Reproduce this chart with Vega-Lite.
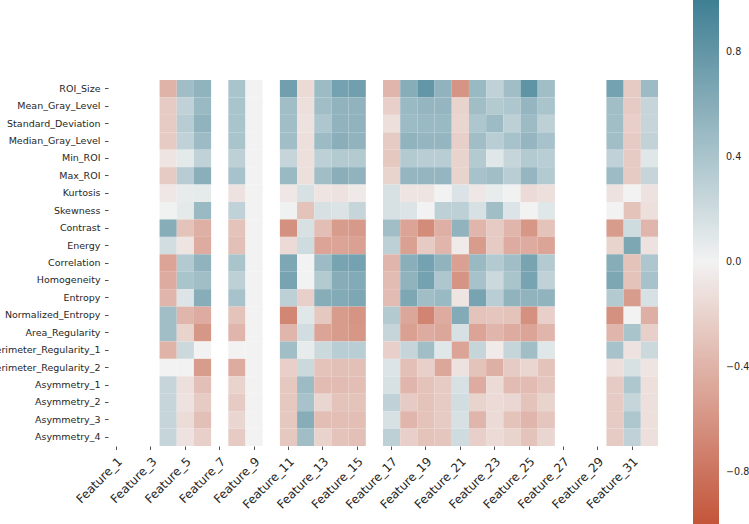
{
"$schema":"https://vega.github.io/schema/vega-lite/v6.json",
"width":550,"height":366,
"autosize":{"type":"none"},
"padding":{"left":108,"top":80,"right":91,"bottom":78},
"background":"white",
"config":{"view":{"stroke":null},"font":"DejaVu Sans"},
"data":{"values":[
{"feature":"Feature_4","metric":"ROI_Size","r":-0.4},{"feature":"Feature_4","metric":"Mean_Gray_Level","r":-0.25},{"feature":"Feature_4","metric":"Standard_Deviation","r":-0.25},{"feature":"Feature_4","metric":"Median_Gray_Level","r":-0.25},{"feature":"Feature_4","metric":"Min_ROI","r":-0.08},{"feature":"Feature_4","metric":"Max_ROI","r":-0.25},{"feature":"Feature_4","metric":"Kurtosis","r":-0.07},{"feature":"Feature_4","metric":"Skewness","r":0.01},{"feature":"Feature_4","metric":"Contrast","r":0.6},{"feature":"Feature_4","metric":"Energy","r":0.18},{"feature":"Feature_4","metric":"Correlation","r":-0.5},{"feature":"Feature_4","metric":"Homogeneity","r":-0.45},{"feature":"Feature_4","metric":"Entropy","r":-0.38},{"feature":"Feature_4","metric":"Normalized_Entropy","r":0.45},{"feature":"Feature_4","metric":"Area_Regularity","r":0.45},{"feature":"Feature_4","metric":"Perimeter_Regularity_1","r":-0.4},{"feature":"Feature_4","metric":"Perimeter_Regularity_2","r":0},{"feature":"Feature_4","metric":"Asymmetry_1","r":0.25},{"feature":"Feature_4","metric":"Asymmetry_2","r":0.25},{"feature":"Feature_4","metric":"Asymmetry_3","r":0.25},{"feature":"Feature_4","metric":"Asymmetry_4","r":0.25},
{"feature":"Feature_5","metric":"ROI_Size","r":0.45},{"feature":"Feature_5","metric":"Mean_Gray_Level","r":0.28},{"feature":"Feature_5","metric":"Standard_Deviation","r":0.33},{"feature":"Feature_5","metric":"Median_Gray_Level","r":0.28},{"feature":"Feature_5","metric":"Min_ROI","r":0.08},{"feature":"Feature_5","metric":"Max_ROI","r":0.33},{"feature":"Feature_5","metric":"Kurtosis","r":0.06},{"feature":"Feature_5","metric":"Skewness","r":0.08},{"feature":"Feature_5","metric":"Contrast","r":-0.3},{"feature":"Feature_5","metric":"Energy","r":-0.08},{"feature":"Feature_5","metric":"Correlation","r":0.35},{"feature":"Feature_5","metric":"Homogeneity","r":0.4},{"feature":"Feature_5","metric":"Entropy","r":0.12},{"feature":"Feature_5","metric":"Normalized_Entropy","r":-0.38},{"feature":"Feature_5","metric":"Area_Regularity","r":-0.2},{"feature":"Feature_5","metric":"Perimeter_Regularity_1","r":0.22},{"feature":"Feature_5","metric":"Perimeter_Regularity_2","r":0},{"feature":"Feature_5","metric":"Asymmetry_1","r":-0.12},{"feature":"Feature_5","metric":"Asymmetry_2","r":-0.1},{"feature":"Feature_5","metric":"Asymmetry_3","r":-0.14},{"feature":"Feature_5","metric":"Asymmetry_4","r":-0.1},
{"feature":"Feature_6","metric":"ROI_Size","r":0.55},{"feature":"Feature_6","metric":"Mean_Gray_Level","r":0.5},{"feature":"Feature_6","metric":"Standard_Deviation","r":0.55},{"feature":"Feature_6","metric":"Median_Gray_Level","r":0.48},{"feature":"Feature_6","metric":"Min_ROI","r":0.28},{"feature":"Feature_6","metric":"Max_ROI","r":0.58},{"feature":"Feature_6","metric":"Kurtosis","r":0.07},{"feature":"Feature_6","metric":"Skewness","r":0.5},{"feature":"Feature_6","metric":"Contrast","r":-0.42},{"feature":"Feature_6","metric":"Energy","r":-0.45},{"feature":"Feature_6","metric":"Correlation","r":0.55},{"feature":"Feature_6","metric":"Homogeneity","r":0.45},{"feature":"Feature_6","metric":"Entropy","r":0.6},{"feature":"Feature_6","metric":"Normalized_Entropy","r":-0.45},{"feature":"Feature_6","metric":"Area_Regularity","r":-0.58},{"feature":"Feature_6","metric":"Perimeter_Regularity_1","r":0},{"feature":"Feature_6","metric":"Perimeter_Regularity_2","r":-0.55},{"feature":"Feature_6","metric":"Asymmetry_1","r":-0.32},{"feature":"Feature_6","metric":"Asymmetry_2","r":-0.25},{"feature":"Feature_6","metric":"Asymmetry_3","r":-0.32},{"feature":"Feature_6","metric":"Asymmetry_4","r":-0.22},
{"feature":"Feature_8","metric":"ROI_Size","r":0.4},{"feature":"Feature_8","metric":"Mean_Gray_Level","r":0.4},{"feature":"Feature_8","metric":"Standard_Deviation","r":0.4},{"feature":"Feature_8","metric":"Median_Gray_Level","r":0.4},{"feature":"Feature_8","metric":"Min_ROI","r":0.3},{"feature":"Feature_8","metric":"Max_ROI","r":0.42},{"feature":"Feature_8","metric":"Kurtosis","r":-0.1},{"feature":"Feature_8","metric":"Skewness","r":0.28},{"feature":"Feature_8","metric":"Contrast","r":-0.3},{"feature":"Feature_8","metric":"Energy","r":-0.32},{"feature":"Feature_8","metric":"Correlation","r":0.4},{"feature":"Feature_8","metric":"Homogeneity","r":0.3},{"feature":"Feature_8","metric":"Entropy","r":0.42},{"feature":"Feature_8","metric":"Normalized_Entropy","r":-0.3},{"feature":"Feature_8","metric":"Area_Regularity","r":-0.38},{"feature":"Feature_8","metric":"Perimeter_Regularity_1","r":0},{"feature":"Feature_8","metric":"Perimeter_Regularity_2","r":-0.45},{"feature":"Feature_8","metric":"Asymmetry_1","r":-0.2},{"feature":"Feature_8","metric":"Asymmetry_2","r":-0.25},{"feature":"Feature_8","metric":"Asymmetry_3","r":-0.18},{"feature":"Feature_8","metric":"Asymmetry_4","r":-0.25},
{"feature":"Feature_9","metric":"ROI_Size","r":0},{"feature":"Feature_9","metric":"Mean_Gray_Level","r":0},{"feature":"Feature_9","metric":"Standard_Deviation","r":0},{"feature":"Feature_9","metric":"Median_Gray_Level","r":0},{"feature":"Feature_9","metric":"Min_ROI","r":0},{"feature":"Feature_9","metric":"Max_ROI","r":0},{"feature":"Feature_9","metric":"Kurtosis","r":0},{"feature":"Feature_9","metric":"Skewness","r":0},{"feature":"Feature_9","metric":"Contrast","r":0},{"feature":"Feature_9","metric":"Energy","r":0},{"feature":"Feature_9","metric":"Correlation","r":0},{"feature":"Feature_9","metric":"Homogeneity","r":0},{"feature":"Feature_9","metric":"Entropy","r":0},{"feature":"Feature_9","metric":"Normalized_Entropy","r":0},{"feature":"Feature_9","metric":"Area_Regularity","r":0},{"feature":"Feature_9","metric":"Perimeter_Regularity_1","r":0},{"feature":"Feature_9","metric":"Perimeter_Regularity_2","r":0},{"feature":"Feature_9","metric":"Asymmetry_1","r":0},{"feature":"Feature_9","metric":"Asymmetry_2","r":0},{"feature":"Feature_9","metric":"Asymmetry_3","r":0},{"feature":"Feature_9","metric":"Asymmetry_4","r":0},
{"feature":"Feature_11","metric":"ROI_Size","r":0.72},{"feature":"Feature_11","metric":"Mean_Gray_Level","r":0.45},{"feature":"Feature_11","metric":"Standard_Deviation","r":0.45},{"feature":"Feature_11","metric":"Median_Gray_Level","r":0.45},{"feature":"Feature_11","metric":"Min_ROI","r":0.25},{"feature":"Feature_11","metric":"Max_ROI","r":0.5},{"feature":"Feature_11","metric":"Kurtosis","r":-0.07},{"feature":"Feature_11","metric":"Skewness","r":0.01},{"feature":"Feature_11","metric":"Contrast","r":-0.62},{"feature":"Feature_11","metric":"Energy","r":-0.15},{"feature":"Feature_11","metric":"Correlation","r":0.65},{"feature":"Feature_11","metric":"Homogeneity","r":0.68},{"feature":"Feature_11","metric":"Entropy","r":0.3},{"feature":"Feature_11","metric":"Normalized_Entropy","r":-0.68},{"feature":"Feature_11","metric":"Area_Regularity","r":-0.38},{"feature":"Feature_11","metric":"Perimeter_Regularity_1","r":0.45},{"feature":"Feature_11","metric":"Perimeter_Regularity_2","r":-0.22},{"feature":"Feature_11","metric":"Asymmetry_1","r":-0.27},{"feature":"Feature_11","metric":"Asymmetry_2","r":-0.27},{"feature":"Feature_11","metric":"Asymmetry_3","r":-0.27},{"feature":"Feature_11","metric":"Asymmetry_4","r":-0.27},
{"feature":"Feature_12","metric":"ROI_Size","r":-0.15},{"feature":"Feature_12","metric":"Mean_Gray_Level","r":-0.12},{"feature":"Feature_12","metric":"Standard_Deviation","r":-0.1},{"feature":"Feature_12","metric":"Median_Gray_Level","r":-0.12},{"feature":"Feature_12","metric":"Min_ROI","r":-0.12},{"feature":"Feature_12","metric":"Max_ROI","r":-0.12},{"feature":"Feature_12","metric":"Kurtosis","r":0.15},{"feature":"Feature_12","metric":"Skewness","r":-0.3},{"feature":"Feature_12","metric":"Contrast","r":0.15},{"feature":"Feature_12","metric":"Energy","r":0.2},{"feature":"Feature_12","metric":"Correlation","r":0},{"feature":"Feature_12","metric":"Homogeneity","r":0},{"feature":"Feature_12","metric":"Entropy","r":-0.22},{"feature":"Feature_12","metric":"Normalized_Entropy","r":0.1},{"feature":"Feature_12","metric":"Area_Regularity","r":0.18},{"feature":"Feature_12","metric":"Perimeter_Regularity_1","r":0.06},{"feature":"Feature_12","metric":"Perimeter_Regularity_2","r":0.22},{"feature":"Feature_12","metric":"Asymmetry_1","r":0.48},{"feature":"Feature_12","metric":"Asymmetry_2","r":0.42},{"feature":"Feature_12","metric":"Asymmetry_3","r":0.6},{"feature":"Feature_12","metric":"Asymmetry_4","r":0.45},
{"feature":"Feature_13","metric":"ROI_Size","r":0.48},{"feature":"Feature_13","metric":"Mean_Gray_Level","r":0.45},{"feature":"Feature_13","metric":"Standard_Deviation","r":0.38},{"feature":"Feature_13","metric":"Median_Gray_Level","r":0.48},{"feature":"Feature_13","metric":"Min_ROI","r":0.3},{"feature":"Feature_13","metric":"Max_ROI","r":0.45},{"feature":"Feature_13","metric":"Kurtosis","r":-0.08},{"feature":"Feature_13","metric":"Skewness","r":0.15},{"feature":"Feature_13","metric":"Contrast","r":-0.33},{"feature":"Feature_13","metric":"Energy","r":-0.5},{"feature":"Feature_13","metric":"Correlation","r":0.48},{"feature":"Feature_13","metric":"Homogeneity","r":0.35},{"feature":"Feature_13","metric":"Entropy","r":0.6},{"feature":"Feature_13","metric":"Normalized_Entropy","r":-0.27},{"feature":"Feature_13","metric":"Area_Regularity","r":-0.5},{"feature":"Feature_13","metric":"Perimeter_Regularity_1","r":0.22},{"feature":"Feature_13","metric":"Perimeter_Regularity_2","r":-0.3},{"feature":"Feature_13","metric":"Asymmetry_1","r":-0.35},{"feature":"Feature_13","metric":"Asymmetry_2","r":-0.18},{"feature":"Feature_13","metric":"Asymmetry_3","r":-0.33},{"feature":"Feature_13","metric":"Asymmetry_4","r":-0.2},
{"feature":"Feature_14","metric":"ROI_Size","r":0.7},{"feature":"Feature_14","metric":"Mean_Gray_Level","r":0.55},{"feature":"Feature_14","metric":"Standard_Deviation","r":0.55},{"feature":"Feature_14","metric":"Median_Gray_Level","r":0.58},{"feature":"Feature_14","metric":"Min_ROI","r":0.35},{"feature":"Feature_14","metric":"Max_ROI","r":0.58},{"feature":"Feature_14","metric":"Kurtosis","r":-0.1},{"feature":"Feature_14","metric":"Skewness","r":0.13},{"feature":"Feature_14","metric":"Contrast","r":-0.55},{"feature":"Feature_14","metric":"Energy","r":-0.5},{"feature":"Feature_14","metric":"Correlation","r":0.68},{"feature":"Feature_14","metric":"Homogeneity","r":0.6},{"feature":"Feature_14","metric":"Entropy","r":0.62},{"feature":"Feature_14","metric":"Normalized_Entropy","r":-0.55},{"feature":"Feature_14","metric":"Area_Regularity","r":-0.55},{"feature":"Feature_14","metric":"Perimeter_Regularity_1","r":0.32},{"feature":"Feature_14","metric":"Perimeter_Regularity_2","r":-0.32},{"feature":"Feature_14","metric":"Asymmetry_1","r":-0.35},{"feature":"Feature_14","metric":"Asymmetry_2","r":-0.3},{"feature":"Feature_14","metric":"Asymmetry_3","r":-0.33},{"feature":"Feature_14","metric":"Asymmetry_4","r":-0.3},
{"feature":"Feature_15","metric":"ROI_Size","r":0.72},{"feature":"Feature_15","metric":"Mean_Gray_Level","r":0.55},{"feature":"Feature_15","metric":"Standard_Deviation","r":0.55},{"feature":"Feature_15","metric":"Median_Gray_Level","r":0.55},{"feature":"Feature_15","metric":"Min_ROI","r":0.35},{"feature":"Feature_15","metric":"Max_ROI","r":0.55},{"feature":"Feature_15","metric":"Kurtosis","r":-0.06},{"feature":"Feature_15","metric":"Skewness","r":0.25},{"feature":"Feature_15","metric":"Contrast","r":-0.57},{"feature":"Feature_15","metric":"Energy","r":-0.52},{"feature":"Feature_15","metric":"Correlation","r":0.7},{"feature":"Feature_15","metric":"Homogeneity","r":0.62},{"feature":"Feature_15","metric":"Entropy","r":0.65},{"feature":"Feature_15","metric":"Normalized_Entropy","r":-0.6},{"feature":"Feature_15","metric":"Area_Regularity","r":-0.58},{"feature":"Feature_15","metric":"Perimeter_Regularity_1","r":0.32},{"feature":"Feature_15","metric":"Perimeter_Regularity_2","r":-0.32},{"feature":"Feature_15","metric":"Asymmetry_1","r":-0.33},{"feature":"Feature_15","metric":"Asymmetry_2","r":-0.3},{"feature":"Feature_15","metric":"Asymmetry_3","r":-0.33},{"feature":"Feature_15","metric":"Asymmetry_4","r":-0.32},
{"feature":"Feature_17","metric":"ROI_Size","r":-0.38},{"feature":"Feature_17","metric":"Mean_Gray_Level","r":-0.22},{"feature":"Feature_17","metric":"Standard_Deviation","r":-0.12},{"feature":"Feature_17","metric":"Median_Gray_Level","r":-0.25},{"feature":"Feature_17","metric":"Min_ROI","r":-0.27},{"feature":"Feature_17","metric":"Max_ROI","r":-0.2},{"feature":"Feature_17","metric":"Kurtosis","r":0.15},{"feature":"Feature_17","metric":"Skewness","r":0.15},{"feature":"Feature_17","metric":"Contrast","r":0.45},{"feature":"Feature_17","metric":"Energy","r":0.3},{"feature":"Feature_17","metric":"Correlation","r":-0.38},{"feature":"Feature_17","metric":"Homogeneity","r":-0.35},{"feature":"Feature_17","metric":"Entropy","r":-0.35},{"feature":"Feature_17","metric":"Normalized_Entropy","r":0.35},{"feature":"Feature_17","metric":"Area_Regularity","r":0.25},{"feature":"Feature_17","metric":"Perimeter_Regularity_1","r":-0.22},{"feature":"Feature_17","metric":"Perimeter_Regularity_2","r":0.12},{"feature":"Feature_17","metric":"Asymmetry_1","r":0.15},{"feature":"Feature_17","metric":"Asymmetry_2","r":0.28},{"feature":"Feature_17","metric":"Asymmetry_3","r":0.15},{"feature":"Feature_17","metric":"Asymmetry_4","r":0.3},
{"feature":"Feature_18","metric":"ROI_Size","r":0.6},{"feature":"Feature_18","metric":"Mean_Gray_Level","r":0.5},{"feature":"Feature_18","metric":"Standard_Deviation","r":0.48},{"feature":"Feature_18","metric":"Median_Gray_Level","r":0.55},{"feature":"Feature_18","metric":"Min_ROI","r":0.35},{"feature":"Feature_18","metric":"Max_ROI","r":0.52},{"feature":"Feature_18","metric":"Kurtosis","r":-0.08},{"feature":"Feature_18","metric":"Skewness","r":0.12},{"feature":"Feature_18","metric":"Contrast","r":-0.5},{"feature":"Feature_18","metric":"Energy","r":-0.52},{"feature":"Feature_18","metric":"Correlation","r":0.58},{"feature":"Feature_18","metric":"Homogeneity","r":0.55},{"feature":"Feature_18","metric":"Entropy","r":0.65},{"feature":"Feature_18","metric":"Normalized_Entropy","r":-0.48},{"feature":"Feature_18","metric":"Area_Regularity","r":-0.52},{"feature":"Feature_18","metric":"Perimeter_Regularity_1","r":0.25},{"feature":"Feature_18","metric":"Perimeter_Regularity_2","r":-0.32},{"feature":"Feature_18","metric":"Asymmetry_1","r":-0.38},{"feature":"Feature_18","metric":"Asymmetry_2","r":-0.25},{"feature":"Feature_18","metric":"Asymmetry_3","r":-0.38},{"feature":"Feature_18","metric":"Asymmetry_4","r":-0.22},
{"feature":"Feature_19","metric":"ROI_Size","r":0.8},{"feature":"Feature_19","metric":"Mean_Gray_Level","r":0.52},{"feature":"Feature_19","metric":"Standard_Deviation","r":0.5},{"feature":"Feature_19","metric":"Median_Gray_Level","r":0.52},{"feature":"Feature_19","metric":"Min_ROI","r":0.32},{"feature":"Feature_19","metric":"Max_ROI","r":0.52},{"feature":"Feature_19","metric":"Kurtosis","r":-0.08},{"feature":"Feature_19","metric":"Skewness","r":0},{"feature":"Feature_19","metric":"Contrast","r":-0.65},{"feature":"Feature_19","metric":"Energy","r":-0.25},{"feature":"Feature_19","metric":"Correlation","r":0.7},{"feature":"Feature_19","metric":"Homogeneity","r":0.7},{"feature":"Feature_19","metric":"Entropy","r":0.45},{"feature":"Feature_19","metric":"Normalized_Entropy","r":-0.7},{"feature":"Feature_19","metric":"Area_Regularity","r":-0.45},{"feature":"Feature_19","metric":"Perimeter_Regularity_1","r":0.45},{"feature":"Feature_19","metric":"Perimeter_Regularity_2","r":-0.22},{"feature":"Feature_19","metric":"Asymmetry_1","r":-0.3},{"feature":"Feature_19","metric":"Asymmetry_2","r":-0.3},{"feature":"Feature_19","metric":"Asymmetry_3","r":-0.3},{"feature":"Feature_19","metric":"Asymmetry_4","r":-0.3},
{"feature":"Feature_20","metric":"ROI_Size","r":0.55},{"feature":"Feature_20","metric":"Mean_Gray_Level","r":0.52},{"feature":"Feature_20","metric":"Standard_Deviation","r":0.5},{"feature":"Feature_20","metric":"Median_Gray_Level","r":0.52},{"feature":"Feature_20","metric":"Min_ROI","r":0.32},{"feature":"Feature_20","metric":"Max_ROI","r":0.52},{"feature":"Feature_20","metric":"Kurtosis","r":0},{"feature":"Feature_20","metric":"Skewness","r":0.3},{"feature":"Feature_20","metric":"Contrast","r":-0.42},{"feature":"Feature_20","metric":"Energy","r":-0.38},{"feature":"Feature_20","metric":"Correlation","r":0.55},{"feature":"Feature_20","metric":"Homogeneity","r":0.38},{"feature":"Feature_20","metric":"Entropy","r":0.5},{"feature":"Feature_20","metric":"Normalized_Entropy","r":-0.45},{"feature":"Feature_20","metric":"Area_Regularity","r":-0.48},{"feature":"Feature_20","metric":"Perimeter_Regularity_1","r":0.1},{"feature":"Feature_20","metric":"Perimeter_Regularity_2","r":-0.48},{"feature":"Feature_20","metric":"Asymmetry_1","r":-0.25},{"feature":"Feature_20","metric":"Asymmetry_2","r":-0.25},{"feature":"Feature_20","metric":"Asymmetry_3","r":-0.25},{"feature":"Feature_20","metric":"Asymmetry_4","r":-0.28},
{"feature":"Feature_21","metric":"ROI_Size","r":-0.6},{"feature":"Feature_21","metric":"Mean_Gray_Level","r":-0.2},{"feature":"Feature_21","metric":"Standard_Deviation","r":-0.18},{"feature":"Feature_21","metric":"Median_Gray_Level","r":-0.22},{"feature":"Feature_21","metric":"Min_ROI","r":-0.2},{"feature":"Feature_21","metric":"Max_ROI","r":-0.2},{"feature":"Feature_21","metric":"Kurtosis","r":0.13},{"feature":"Feature_21","metric":"Skewness","r":0.3},{"feature":"Feature_21","metric":"Contrast","r":0.55},{"feature":"Feature_21","metric":"Energy","r":-0.05},{"feature":"Feature_21","metric":"Correlation","r":-0.52},{"feature":"Feature_21","metric":"Homogeneity","r":-0.6},{"feature":"Feature_21","metric":"Entropy","r":-0.08},{"feature":"Feature_21","metric":"Normalized_Entropy","r":0.62},{"feature":"Feature_21","metric":"Area_Regularity","r":0.15},{"feature":"Feature_21","metric":"Perimeter_Regularity_1","r":-0.5},{"feature":"Feature_21","metric":"Perimeter_Regularity_2","r":-0.1},{"feature":"Feature_21","metric":"Asymmetry_1","r":0.15},{"feature":"Feature_21","metric":"Asymmetry_2","r":0.18},{"feature":"Feature_21","metric":"Asymmetry_3","r":0.15},{"feature":"Feature_21","metric":"Asymmetry_4","r":0.2},
{"feature":"Feature_22","metric":"ROI_Size","r":0.5},{"feature":"Feature_22","metric":"Mean_Gray_Level","r":0.45},{"feature":"Feature_22","metric":"Standard_Deviation","r":0.38},{"feature":"Feature_22","metric":"Median_Gray_Level","r":0.45},{"feature":"Feature_22","metric":"Min_ROI","r":0.35},{"feature":"Feature_22","metric":"Max_ROI","r":0.42},{"feature":"Feature_22","metric":"Kurtosis","r":-0.07},{"feature":"Feature_22","metric":"Skewness","r":0.15},{"feature":"Feature_22","metric":"Contrast","r":-0.38},{"feature":"Feature_22","metric":"Energy","r":-0.55},{"feature":"Feature_22","metric":"Correlation","r":0.5},{"feature":"Feature_22","metric":"Homogeneity","r":0.42},{"feature":"Feature_22","metric":"Entropy","r":0.68},{"feature":"Feature_22","metric":"Normalized_Entropy","r":-0.3},{"feature":"Feature_22","metric":"Area_Regularity","r":-0.5},{"feature":"Feature_22","metric":"Perimeter_Regularity_1","r":0.25},{"feature":"Feature_22","metric":"Perimeter_Regularity_2","r":-0.3},{"feature":"Feature_22","metric":"Asymmetry_1","r":-0.45},{"feature":"Feature_22","metric":"Asymmetry_2","r":-0.2},{"feature":"Feature_22","metric":"Asymmetry_3","r":-0.38},{"feature":"Feature_22","metric":"Asymmetry_4","r":-0.22},
{"feature":"Feature_23","metric":"ROI_Size","r":0.28},{"feature":"Feature_23","metric":"Mean_Gray_Level","r":0.35},{"feature":"Feature_23","metric":"Standard_Deviation","r":0.48},{"feature":"Feature_23","metric":"Median_Gray_Level","r":0.32},{"feature":"Feature_23","metric":"Min_ROI","r":0.1},{"feature":"Feature_23","metric":"Max_ROI","r":0.45},{"feature":"Feature_23","metric":"Kurtosis","r":0.05},{"feature":"Feature_23","metric":"Skewness","r":0.45},{"feature":"Feature_23","metric":"Contrast","r":-0.25},{"feature":"Feature_23","metric":"Energy","r":-0.25},{"feature":"Feature_23","metric":"Correlation","r":0.35},{"feature":"Feature_23","metric":"Homogeneity","r":0.22},{"feature":"Feature_23","metric":"Entropy","r":0.32},{"feature":"Feature_23","metric":"Normalized_Entropy","r":-0.28},{"feature":"Feature_23","metric":"Area_Regularity","r":-0.38},{"feature":"Feature_23","metric":"Perimeter_Regularity_1","r":-0.05},{"feature":"Feature_23","metric":"Perimeter_Regularity_2","r":-0.42},{"feature":"Feature_23","metric":"Asymmetry_1","r":-0.15},{"feature":"Feature_23","metric":"Asymmetry_2","r":-0.15},{"feature":"Feature_23","metric":"Asymmetry_3","r":-0.15},{"feature":"Feature_23","metric":"Asymmetry_4","r":-0.15},
{"feature":"Feature_24","metric":"ROI_Size","r":0.45},{"feature":"Feature_24","metric":"Mean_Gray_Level","r":0.38},{"feature":"Feature_24","metric":"Standard_Deviation","r":0.3},{"feature":"Feature_24","metric":"Median_Gray_Level","r":0.42},{"feature":"Feature_24","metric":"Min_ROI","r":0.25},{"feature":"Feature_24","metric":"Max_ROI","r":0.32},{"feature":"Feature_24","metric":"Kurtosis","r":0.01},{"feature":"Feature_24","metric":"Skewness","r":0.12},{"feature":"Feature_24","metric":"Contrast","r":-0.38},{"feature":"Feature_24","metric":"Energy","r":-0.45},{"feature":"Feature_24","metric":"Correlation","r":0.45},{"feature":"Feature_24","metric":"Homogeneity","r":0.4},{"feature":"Feature_24","metric":"Entropy","r":0.55},{"feature":"Feature_24","metric":"Normalized_Entropy","r":-0.3},{"feature":"Feature_24","metric":"Area_Regularity","r":-0.45},{"feature":"Feature_24","metric":"Perimeter_Regularity_1","r":0.25},{"feature":"Feature_24","metric":"Perimeter_Regularity_2","r":-0.25},{"feature":"Feature_24","metric":"Asymmetry_1","r":-0.35},{"feature":"Feature_24","metric":"Asymmetry_2","r":-0.17},{"feature":"Feature_24","metric":"Asymmetry_3","r":-0.3},{"feature":"Feature_24","metric":"Asymmetry_4","r":-0.2},
{"feature":"Feature_25","metric":"ROI_Size","r":0.82},{"feature":"Feature_25","metric":"Mean_Gray_Level","r":0.52},{"feature":"Feature_25","metric":"Standard_Deviation","r":0.48},{"feature":"Feature_25","metric":"Median_Gray_Level","r":0.52},{"feature":"Feature_25","metric":"Min_ROI","r":0.35},{"feature":"Feature_25","metric":"Max_ROI","r":0.52},{"feature":"Feature_25","metric":"Kurtosis","r":-0.15},{"feature":"Feature_25","metric":"Skewness","r":0},{"feature":"Feature_25","metric":"Contrast","r":-0.58},{"feature":"Feature_25","metric":"Energy","r":-0.45},{"feature":"Feature_25","metric":"Correlation","r":0.68},{"feature":"Feature_25","metric":"Homogeneity","r":0.68},{"feature":"Feature_25","metric":"Entropy","r":0.55},{"feature":"Feature_25","metric":"Normalized_Entropy","r":-0.62},{"feature":"Feature_25","metric":"Area_Regularity","r":-0.5},{"feature":"Feature_25","metric":"Perimeter_Regularity_1","r":0.45},{"feature":"Feature_25","metric":"Perimeter_Regularity_2","r":-0.18},{"feature":"Feature_25","metric":"Asymmetry_1","r":-0.35},{"feature":"Feature_25","metric":"Asymmetry_2","r":-0.3},{"feature":"Feature_25","metric":"Asymmetry_3","r":-0.38},{"feature":"Feature_25","metric":"Asymmetry_4","r":-0.3},
{"feature":"Feature_26","metric":"ROI_Size","r":0.45},{"feature":"Feature_26","metric":"Mean_Gray_Level","r":0.4},{"feature":"Feature_26","metric":"Standard_Deviation","r":0.3},{"feature":"Feature_26","metric":"Median_Gray_Level","r":0.42},{"feature":"Feature_26","metric":"Min_ROI","r":0.32},{"feature":"Feature_26","metric":"Max_ROI","r":0.35},{"feature":"Feature_26","metric":"Kurtosis","r":-0.12},{"feature":"Feature_26","metric":"Skewness","r":0.1},{"feature":"Feature_26","metric":"Contrast","r":-0.3},{"feature":"Feature_26","metric":"Energy","r":-0.5},{"feature":"Feature_26","metric":"Correlation","r":0.35},{"feature":"Feature_26","metric":"Homogeneity","r":0.28},{"feature":"Feature_26","metric":"Entropy","r":0.55},{"feature":"Feature_26","metric":"Normalized_Entropy","r":-0.22},{"feature":"Feature_26","metric":"Area_Regularity","r":-0.38},{"feature":"Feature_26","metric":"Perimeter_Regularity_1","r":0.1},{"feature":"Feature_26","metric":"Perimeter_Regularity_2","r":-0.3},{"feature":"Feature_26","metric":"Asymmetry_1","r":-0.28},{"feature":"Feature_26","metric":"Asymmetry_2","r":-0.2},{"feature":"Feature_26","metric":"Asymmetry_3","r":-0.28},{"feature":"Feature_26","metric":"Asymmetry_4","r":-0.18},
{"feature":"Feature_30","metric":"ROI_Size","r":0.7},{"feature":"Feature_30","metric":"Mean_Gray_Level","r":0.45},{"feature":"Feature_30","metric":"Standard_Deviation","r":0.45},{"feature":"Feature_30","metric":"Median_Gray_Level","r":0.45},{"feature":"Feature_30","metric":"Min_ROI","r":0.28},{"feature":"Feature_30","metric":"Max_ROI","r":0.48},{"feature":"Feature_30","metric":"Kurtosis","r":-0.1},{"feature":"Feature_30","metric":"Skewness","r":0},{"feature":"Feature_30","metric":"Contrast","r":-0.55},{"feature":"Feature_30","metric":"Energy","r":-0.2},{"feature":"Feature_30","metric":"Correlation","r":0.6},{"feature":"Feature_30","metric":"Homogeneity","r":0.65},{"feature":"Feature_30","metric":"Entropy","r":0.35},{"feature":"Feature_30","metric":"Normalized_Entropy","r":-0.62},{"feature":"Feature_30","metric":"Area_Regularity","r":-0.38},{"feature":"Feature_30","metric":"Perimeter_Regularity_1","r":0.42},{"feature":"Feature_30","metric":"Perimeter_Regularity_2","r":-0.12},{"feature":"Feature_30","metric":"Asymmetry_1","r":-0.25},{"feature":"Feature_30","metric":"Asymmetry_2","r":-0.25},{"feature":"Feature_30","metric":"Asymmetry_3","r":-0.25},{"feature":"Feature_30","metric":"Asymmetry_4","r":-0.25},
{"feature":"Feature_31","metric":"ROI_Size","r":-0.25},{"feature":"Feature_31","metric":"Mean_Gray_Level","r":-0.25},{"feature":"Feature_31","metric":"Standard_Deviation","r":-0.22},{"feature":"Feature_31","metric":"Median_Gray_Level","r":-0.25},{"feature":"Feature_31","metric":"Min_ROI","r":-0.25},{"feature":"Feature_31","metric":"Max_ROI","r":-0.25},{"feature":"Feature_31","metric":"Kurtosis","r":0},{"feature":"Feature_31","metric":"Skewness","r":-0.3},{"feature":"Feature_31","metric":"Contrast","r":0.2},{"feature":"Feature_31","metric":"Energy","r":0.65},{"feature":"Feature_31","metric":"Correlation","r":-0.3},{"feature":"Feature_31","metric":"Homogeneity","r":-0.3},{"feature":"Feature_31","metric":"Entropy","r":-0.55},{"feature":"Feature_31","metric":"Normalized_Entropy","r":0},{"feature":"Feature_31","metric":"Area_Regularity","r":0.4},{"feature":"Feature_31","metric":"Perimeter_Regularity_1","r":-0.1},{"feature":"Feature_31","metric":"Perimeter_Regularity_2","r":0.15},{"feature":"Feature_31","metric":"Asymmetry_1","r":0.38},{"feature":"Feature_31","metric":"Asymmetry_2","r":0.25},{"feature":"Feature_31","metric":"Asymmetry_3","r":0.38},{"feature":"Feature_31","metric":"Asymmetry_4","r":0.28},
{"feature":"Feature_32","metric":"ROI_Size","r":0.48},{"feature":"Feature_32","metric":"Mean_Gray_Level","r":0.25},{"feature":"Feature_32","metric":"Standard_Deviation","r":0.25},{"feature":"Feature_32","metric":"Median_Gray_Level","r":0.27},{"feature":"Feature_32","metric":"Min_ROI","r":0.1},{"feature":"Feature_32","metric":"Max_ROI","r":0.25},{"feature":"Feature_32","metric":"Kurtosis","r":-0.1},{"feature":"Feature_32","metric":"Skewness","r":-0.12},{"feature":"Feature_32","metric":"Contrast","r":-0.38},{"feature":"Feature_32","metric":"Energy","r":-0.1},{"feature":"Feature_32","metric":"Correlation","r":0.38},{"feature":"Feature_32","metric":"Homogeneity","r":0.42},{"feature":"Feature_32","metric":"Entropy","r":0.15},{"feature":"Feature_32","metric":"Normalized_Entropy","r":-0.42},{"feature":"Feature_32","metric":"Area_Regularity","r":-0.22},{"feature":"Feature_32","metric":"Perimeter_Regularity_1","r":0.22},{"feature":"Feature_32","metric":"Perimeter_Regularity_2","r":-0.08},{"feature":"Feature_32","metric":"Asymmetry_1","r":-0.12},{"feature":"Feature_32","metric":"Asymmetry_2","r":-0.12},{"feature":"Feature_32","metric":"Asymmetry_3","r":-0.12},{"feature":"Feature_32","metric":"Asymmetry_4","r":-0.12}
]},
"mark":{"type":"rect"},
"encoding":{
"x":{"field":"feature","type":"nominal",
"scale":{"domain":["Feature_1","Feature_2","Feature_3","Feature_4","Feature_5","Feature_6","Feature_7","Feature_8","Feature_9","Feature_10","Feature_11","Feature_12","Feature_13","Feature_14","Feature_15","Feature_16","Feature_17","Feature_18","Feature_19","Feature_20","Feature_21","Feature_22","Feature_23","Feature_24","Feature_25","Feature_26","Feature_27","Feature_28","Feature_29","Feature_30","Feature_31","Feature_32"],"paddingInner":0,"paddingOuter":0},
"axis":{"title":null,"values":["Feature_1","Feature_3","Feature_5","Feature_7","Feature_9","Feature_11","Feature_13","Feature_15","Feature_17","Feature_19","Feature_21","Feature_23","Feature_25","Feature_27","Feature_29","Feature_31"],"labelAngle":-45,"labelAlign":"right","labelBaseline":"top","labelFontSize":12,"labelColor":"#262626","tickColor":"#262626","tickSize":3.5,"tickWidth":0.8,"domain":false,"labelPadding":6,"grid":false}},
"y":{"field":"metric","type":"nominal",
"scale":{"domain":["ROI_Size","Mean_Gray_Level","Standard_Deviation","Median_Gray_Level","Min_ROI","Max_ROI","Kurtosis","Skewness","Contrast","Energy","Correlation","Homogeneity","Entropy","Normalized_Entropy","Area_Regularity","Perimeter_Regularity_1","Perimeter_Regularity_2","Asymmetry_1","Asymmetry_2","Asymmetry_3","Asymmetry_4"],"paddingInner":0,"paddingOuter":0},
"axis":{"title":null,"labelFontSize":9.5,"labelColor":"#262626","tickColor":"#262626","tickSize":3.5,"tickWidth":0.8,"domain":false,"labelPadding":4.5,"grid":false}},
"color":{"field":"r","type":"quantitative",
"scale":{"domain":[-1,0,1],"range":["#c3553a","#f2f2f2","#3f7f93"],"interpolate":"rgb"},
"legend":{"title":null,"orient":"none","legendX":585,"legendY":-80,"direction":"vertical","gradientLength":524,"gradientThickness":26,"gradientStrokeWidth":0,"values":[-0.8,-0.4,0,0.4,0.8],"format":".1f","labelFontSize":9.6,"labelColor":"#262626","labelOffset":7,"padding":0}}
}
}
